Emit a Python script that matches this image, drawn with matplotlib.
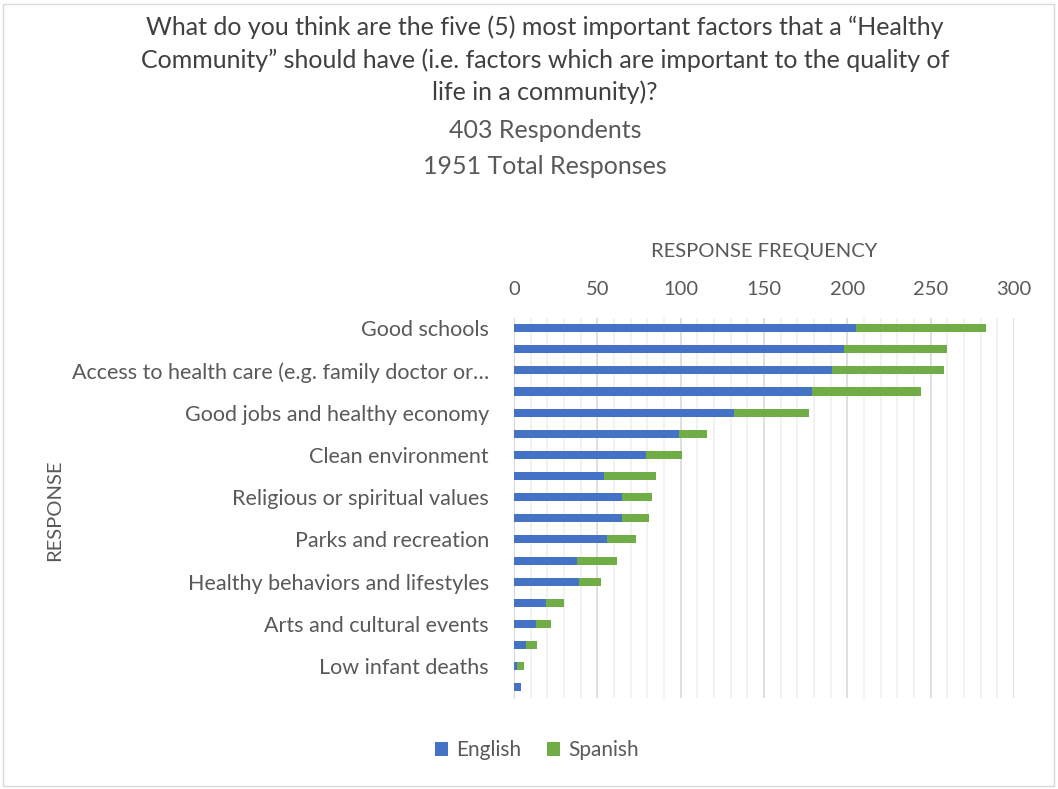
import matplotlib.pyplot as plt
import numpy as np
from matplotlib.patches import Rectangle

plt.rcParams['font.family'] = ['Lato', 'DejaVu Sans']

# categories (only every other label is shown in the original chart)
categories = ["Good schools", "",
              "Access to health care (e.g. family doctor or\u2026", "",
              "Good jobs and healthy economy", "",
              "Clean environment", "",
              "Religious or spiritual values", "",
              "Parks and recreation", "",
              "Healthy behaviors and lifestyles", "",
              "Arts and cultural events", "",
              "Low infant deaths", ""]
english = [205, 198, 191, 179, 132, 99, 79, 54, 65, 65, 56, 38, 39, 19, 13, 7, 2, 4]
spanish = [78, 62, 67, 65, 45, 17, 22, 31, 18, 16, 17, 24, 13, 11, 9, 7, 4, 0]
x_ticks = [0, 50, 100, 150, 200, 250, 300]

blue = '#4472C4'
green = '#70AD47'
txt = '#595959'

fig = plt.figure(figsize=(10.58, 7.89), dpi=100)
fig.patch.set_facecolor('#ffffff')
fig.patches.append(Rectangle((3/1058, 3/789), 1 - 7/1058, 1 - 7/789, transform=fig.transFigure,
                             fill=False, edgecolor='#d9d9d9', linewidth=1))

ax = fig.add_axes([514/1058, 1 - 698/789, 500/1058, 380.5/789])
y = np.arange(len(categories))
eng = np.array(english)
spa = np.array(spanish)
ax.barh(y, eng, height=0.38, color=blue, label='English', zorder=3)
ax.barh(y, spa, left=eng, height=0.38, color=green, label='Spanish', zorder=3)

ax.set_xlim(0, 300)
ax.set_ylim(len(categories) - 0.5, -0.5)
ax.set_yticks(y)
ax.set_yticklabels(categories)
ax.set_xticks(x_ticks)
ax.set_xticks(np.arange(0, 301, 10), minor=True)
ax.xaxis.tick_top()
ax.tick_params(axis='x', which='both', length=0, labelsize=14.5, labelcolor=txt, pad=14)
ax.tick_params(axis='y', length=0, labelsize=15.5, labelcolor=txt, pad=18)
ax.grid(axis='x', which='major', color='#d9d9d9', linewidth=1.2, zorder=0)
ax.grid(axis='x', which='minor', color='#f0f0f0', linewidth=1.2, zorder=0)
for s in ['top', 'right', 'bottom']:
    ax.spines[s].set_visible(False)
ax.spines['left'].set_color('#d9d9d9')

fig.text(764/1058, 1 - 252/789, 'RESPONSE FREQUENCY', ha='center', va='center', fontsize=14.5, color=txt)
fig.text(55/1058, 1 - 510/789, 'RESPONSE', ha='center', va='center', rotation=90, fontsize=14.5, color=txt)

title = ('What do you think are the five (5) most important factors that a \u201cHealthy\n'
         'Community\u201d should have (i.e. factors which are important to the quality of\n'
         'life in a community)?')
fig.text(545/1058, 1 - 60/789, title, ha='center', va='center', fontsize=18, color='#404040',
         linespacing=1.45)
fig.text(545/1058, 1 - 130/789, '403 Respondents', ha='center', va='center', fontsize=18, color=txt)
fig.text(545/1058, 1 - 166/789, '1951 Total Responses', ha='center', va='center', fontsize=18, color=txt)

fig.legend(loc='center', bbox_to_anchor=(537/1058, 1 - 750/789), ncol=2, frameon=False,
           fontsize=15, labelcolor=txt, handlelength=0.65, handleheight=0.65, columnspacing=1.2,
           handletextpad=0.4)

fig.savefig('out.png', dpi=100)
